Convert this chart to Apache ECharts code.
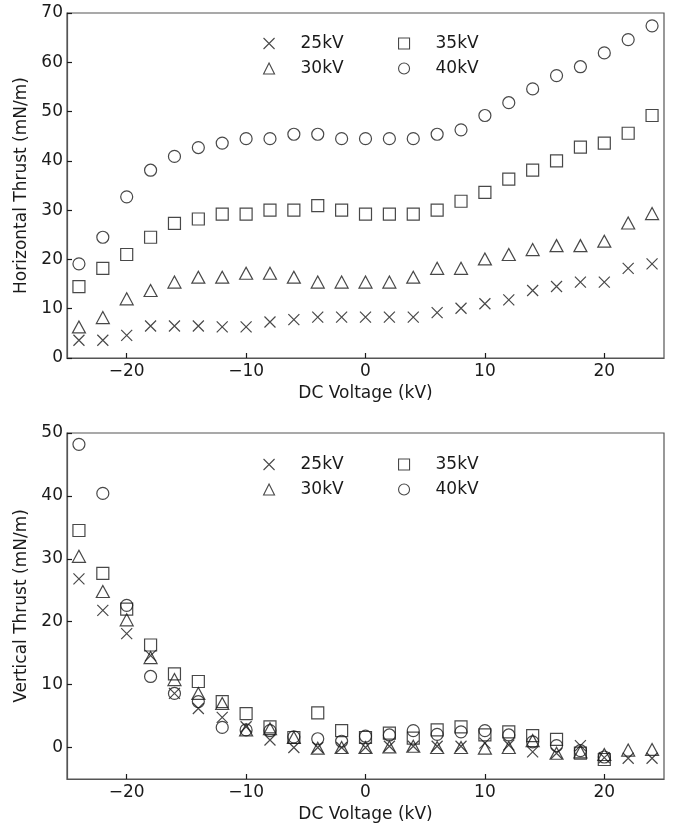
<!DOCTYPE html>
<html>
<head>
<meta charset="utf-8">
<script src="https://cdn.jsdelivr.net/npm/echarts@6/dist/echarts.min.js"></script>
<style>
html,body{margin:0;padding:0;background:#fff;}
#chart{width:678px;height:827px;}
</style>
</head>
<body>
<div id="chart"></div>
<script>
// DC voltage (kV)
const voltage = [-24,-22,-20,-18,-16,-14,-12,-10,-8,-6,-4,-2,0,2,4,6,8,10,12,14,16,18,20,22,24];
const seriesNames = ['25kV','30kV','35kV','40kV'];

// Horizontal thrust (mN/m)
const hThrust25 = [3.6,3.6,4.6,6.5,6.5,6.5,6.3,6.3,7.3,7.8,8.3,8.3,8.3,8.3,8.3,9.2,10.1,11.0,11.8,13.7,14.5,15.4,15.4,18.2,19.1];
const hThrust30 = [6.3,8.2,12.0,13.7,15.4,16.4,16.4,17.2,17.2,16.4,15.4,15.4,15.4,15.4,16.4,18.2,18.2,20.1,21.0,22.0,22.8,22.8,23.7,27.4,29.3];
const hThrust35 = [14.5,18.2,21.0,24.5,27.3,28.2,29.2,29.2,30.0,30.0,30.9,30.0,29.2,29.2,29.2,30.0,31.8,33.6,36.3,38.1,40.0,42.8,43.6,45.6,49.2];
const hThrust40 = [19.1,24.5,32.7,38.1,40.9,42.7,43.6,44.5,44.5,45.4,45.4,44.5,44.5,44.5,44.5,45.4,46.3,49.2,51.8,54.6,57.3,59.1,61.9,64.6,67.4];

// Vertical thrust (mN/m)
const vThrust25 = [26.8,21.8,18.1,14.6,8.6,6.2,4.8,3.3,1.2,0.0,0.0,0.0,0.0,0.2,0.2,0.2,0.2,0.7,0.4,-0.7,-0.9,0.3,-1.6,-1.7,-1.7];
const vThrust30 = [30.4,24.8,20.3,14.3,10.8,8.6,7.0,2.8,3.0,1.6,-0.1,0.0,0.0,0.1,0.2,0.0,0.0,-0.1,0.0,1.1,-0.9,-0.7,-1.1,-0.4,-0.3];
const vThrust35 = [34.5,27.7,22.0,16.3,11.7,10.5,7.3,5.4,3.3,1.6,5.5,2.7,1.6,2.3,1.5,2.8,3.3,2.0,2.5,1.9,1.3,-0.9,-1.9];
const vThrust40 = [48.2,40.4,22.6,11.3,8.6,7.3,3.2,2.8,2.7,1.7,1.4,1.0,1.8,2.0,2.7,2.1,2.5,2.7,2.0,0.9,0.3,-0.5,-1.5];

// Tick labels
const xTicks = [-20,-10,0,10,20];
const hTicks = [0,10,20,30,40,50,60,70];
const vTicks = [0,10,20,30,40,50];

const FONT = 'DejaVu Sans';
const INK = '#1a1a1a';
const AXIS = '#555';

const symbols = {
  '25kV': {symbol: 'path://M0,0L10,10M10,0L0,10', size: [11,11]},
  '30kV': {symbol: 'triangle', size: [13,12]},
  '35kV': {symbol: 'rect', size: [12,12]},
  '40kV': {symbol: 'circle', size: [12,12]}
};

const hData = [hThrust25, hThrust30, hThrust35, hThrust40];
const vData = [vThrust25, vThrust30, vThrust35, vThrust40];

function mkSeries(arrs, idx) {
  return seriesNames.map((n, k) => ({
    name: n,
    type: 'scatter',
    xAxisIndex: idx,
    yAxisIndex: idx,
    symbol: symbols[n].symbol,
    symbolSize: symbols[n].size,
    itemStyle: {color: 'rgba(0,0,0,0)', borderColor: INK, borderWidth: 1.2},
    emphasis: {disabled: true},
    data: arrs[k].map((v, i) => [voltage[i], v])
  }));
}

function xAxis(idx) {
  return {
    type: 'value', gridIndex: idx, min: -25, max: 25,
    name: 'DC Voltage (kV)', nameLocation: 'middle', nameGap: 27,
    nameTextStyle: {fontFamily: FONT, fontSize: 17, color: INK},
    axisLine: {show: true, onZero: false, lineStyle: {color: AXIS, width: 1.2}},
    axisTick: {show: true, inside: true, length: 5, customValues: xTicks, lineStyle: {color: INK, width: 1.2}},
    axisLabel: {customValues: xTicks, fontFamily: FONT, fontSize: 17, color: INK, margin: 5,
      formatter: v => (v < 0 ? '\u2212' + Math.abs(v) : String(v))},
    splitLine: {show: false}
  };
}

function yAxis(idx, name, min, max, ticks) {
  return {
    type: 'value', gridIndex: idx, min: min, max: max,
    name: name, nameLocation: 'middle', nameGap: 34, nameRotate: 90,
    nameTextStyle: {fontFamily: FONT, fontSize: 17, color: INK},
    axisLine: {show: true, onZero: false, lineStyle: {color: AXIS, width: 1.2}},
    axisTick: {show: true, inside: true, length: 5, customValues: ticks, lineStyle: {color: INK, width: 1.2}},
    axisLabel: {customValues: ticks, fontFamily: FONT, fontSize: 17, color: INK, margin: 4},
    splitLine: {show: false}
  };
}

function legend(data, left, top) {
  return {
    data: data.map(n => ({name: n, icon: symbols[n].symbol})),
    orient: 'vertical', left: left, top: top,
    itemWidth: 11, itemHeight: 11, itemGap: 8,
    symbolKeepAspect: true,
    selectedMode: false,
    textStyle: {fontFamily: FONT, fontSize: 17, color: INK, lineHeight: 17, padding: [0, 0, 0, 21]},
    itemStyle: {color: 'rgba(0,0,0,0)', borderColor: INK, borderWidth: 1.1}
  };
}

const option = {
  animation: false,
  backgroundColor: '#fff',
  grid: [
    {left: 67, top: 13, width: 597, height: 345, show: true, borderColor: AXIS, borderWidth: 1.2, backgroundColor: 'transparent'},
    {left: 67, top: 433, width: 597, height: 346, show: true, borderColor: AXIS, borderWidth: 1.2, backgroundColor: 'transparent'}
  ],
  xAxis: [xAxis(0), xAxis(1)],
  yAxis: [
    yAxis(0, 'Horizontal Thrust (mN/m)', 0, 70, hTicks),
    yAxis(1, 'Vertical Thrust (mN/m)', -5, 50, vTicks)
  ],
  legend: [
    legend(['25kV','30kV'], 258, 30),
    legend(['35kV','40kV'], 393, 30),
    legend(['25kV','30kV'], 258, 451),
    legend(['35kV','40kV'], 393, 451)
  ],
  series: [...mkSeries(hData, 0), ...mkSeries(vData, 1)]
};

const chart = echarts.init(document.getElementById('chart'), null, {renderer: 'canvas'});
chart.setOption(option);
</script>
</body>
</html>
